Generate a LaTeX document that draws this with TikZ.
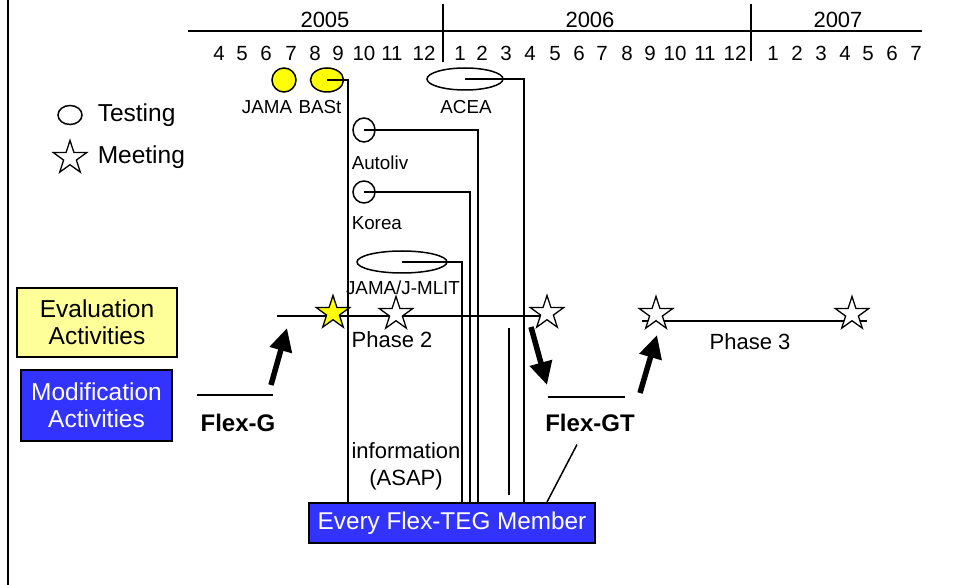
\documentclass[tikz,border=0pt]{standalone}
\usepackage{fontspec}
\setmainfont{Liberation Sans}
\usetikzlibrary{arrows.meta,positioning,shapes.geometric}
\definecolor{evalyellow}{RGB}{255,255,153}
\definecolor{testyellow}{RGB}{255,255,0}
\definecolor{modblue}{RGB}{51,51,255}

\begin{document}
\begin{tikzpicture}[x=1pt,y=-1pt,line width=1.5pt,
  lbl/.style={inner sep=0pt,font=\fontsize{18.8}{21}\selectfont},
  mon/.style={inner sep=0pt,anchor=base,font=\fontsize{20.5}{23}\selectfont},
  txt/.style={inner sep=0pt,align=center,font=\fontsize{22}{27}\selectfont},
  bold/.style={inner sep=0pt,font=\fontsize{24}{27}\selectfont\bfseries},
  test/.style={draw,ellipse,inner sep=0pt,line width=1.5pt},
  meet/.style={draw,star,star points=5,star point ratio=2.6,inner sep=0pt,minimum size=35pt,fill=white,line width=1.3pt},
  actbox/.style={draw,line width=2pt,align=center,inner sep=0pt,font=\fontsize{24.5}{27}\selectfont},
  bigarrow/.style={line width=5.5pt,-{Triangle[length=23pt,width=22pt]}}]

\useasboundingbox (0,0) rectangle (962,585);
\draw[line width=2.5pt] (8,0) -- (8,585);

% time scale
\draw (188,31) -- (922,31);
\draw (443,4) -- (443,62);
\draw (751,4) -- (751,61);
\node[txt] (y2005) at (325,20) {2005};
\node[txt] (y2006) at (590,20) {2006};
\node[txt] (y2007) at (838,20) {2007};
\foreach \m/\x in {4/219,5/242,6/266,7/291,8/315,9/338,10/364,11/392,12/424}
  \node[mon] (a\m) at (\x,60.5) {\m};
\foreach \m/\x in {1/460,2/482,3/506,4/530,5/555,6/579,7/602,8/627,9/650,10/675,11/705,12/735}
  \node[mon] (b\m) at (\x,60.5) {\m};
\foreach \m/\x in {1/773,2/797,3/821,4/845,5/868,6/892,7/916}
  \node[mon] (c\m) at (\x,60.5) {\m};

% legend
\node[test,minimum width=24pt,minimum height=19pt] (legtest) at (70,115) {};
\node[txt,anchor=west,font=\fontsize{24.5}{27}\selectfont] (legtesttxt) at (97,115) {Testing};
\node[meet] (legmeet) at (70,158) {};
\node[txt,anchor=west,font=\fontsize{24.5}{27}\selectfont] (legmeettxt) at (97,157) {Meeting};

% activities
\node[actbox,fill=evalyellow,minimum width=160pt,minimum height=69pt] (eval) at (97,322.5) {Evaluation\\Activities};
\node[actbox,fill=modblue,text=white,minimum width=151pt,minimum height=71pt] (modif) at (96.5,405.5) {Modification\\Activities};

% testing
\node[test,fill=testyellow,minimum width=24pt,minimum height=24pt] (jama) at (284,80) {};
\node[test,fill=testyellow,minimum width=33pt,minimum height=24pt] (bast) at (327,80) {};
\node[test,minimum width=76pt,minimum height=22pt] (acea) at (465,79) {};
\node[test,minimum width=22pt,minimum height=24pt] (autoliv) at (364,130) {};
\node[test,minimum width=22pt,minimum height=22pt] (korea) at (364,192) {};
\node[test,minimum width=90pt,minimum height=22pt] (jmlit) at (402,262) {};
\node[lbl] (jamalbl) at (267,107) {JAMA};
\node[lbl] (bastlbl) at (320,107) {BASt};
\node[lbl] (acealbl) at (466,107) {ACEA};
\node[lbl,anchor=west] (autolivlbl) at (351,163) {Autoliv};
\node[lbl,anchor=west] (korealbl) at (351,223) {Korea};
\node[lbl] (jmlitlbl) at (403,288) {JAMA/J-MLIT};

\node[draw,line width=2pt,fill=modblue,text=white,inner sep=0pt,minimum width=286pt,minimum height=40pt,font=\fontsize{24.3}{27}\selectfont] (member) at (452,523) {Every Flex-TEG Member};
\node[txt] (info) at (406,466) {information\\(ASAP)};

\draw (bast.center) -| ([xshift=40pt]member.north west);
\draw (acea.center) -| ([xshift=216pt]member.north west);
\draw (autoliv.center) -| ([xshift=170pt]member.north west);
\draw (korea.center) -| ([xshift=162pt]member.north west);
\draw (jmlit.center) -| ([xshift=154pt]member.north west);

% phase 2
\coordinate (p2s) at (277,316);
\coordinate (p2e) at (547,316);
\draw (p2s) -- (p2e);
\node[meet,fill=testyellow] (m1) at (333,313) {};
\node[meet] (m2) at (396,314) {};
\node[meet] (m3) at (547,313) {};
\node[txt] (ph2) at (392,340) {Phase 2};
\draw (509,328) -- (509,495);

% Flex-G
\coordinate (fgl) at (197,395);
\coordinate (fgr) at (273,395);
\draw (fgl) -- (fgr);
\node[bold] (flexg) at (238,423) {Flex-G};
\draw[bigarrow] (271,385) -- (287,328);

% Flex-GT
\draw[bigarrow] (531,327) -- (547,385);
\coordinate (fgtl) at (548,397);
\coordinate (fgtr) at (625,397);
\draw (fgtl) -- (fgtr);
\node[bold] (flexgt) at (590,423) {Flex-GT};
\draw ([xshift=-13pt,yshift=-12pt]flexgt.south) -- ([xshift=239pt]member.north west);
\draw[bigarrow] (640,393) -- (657,335);

% phase 3
\coordinate (p3s) at (642,321);
\coordinate (p3e) at (867,321);
\draw (p3s) -- (p3e);
\node[meet] (m4) at (656,314) {};
\node[meet] (m5) at (852,314) {};
\node[txt] (ph3) at (750,342) {Phase 3};
\end{tikzpicture}
\end{document}
